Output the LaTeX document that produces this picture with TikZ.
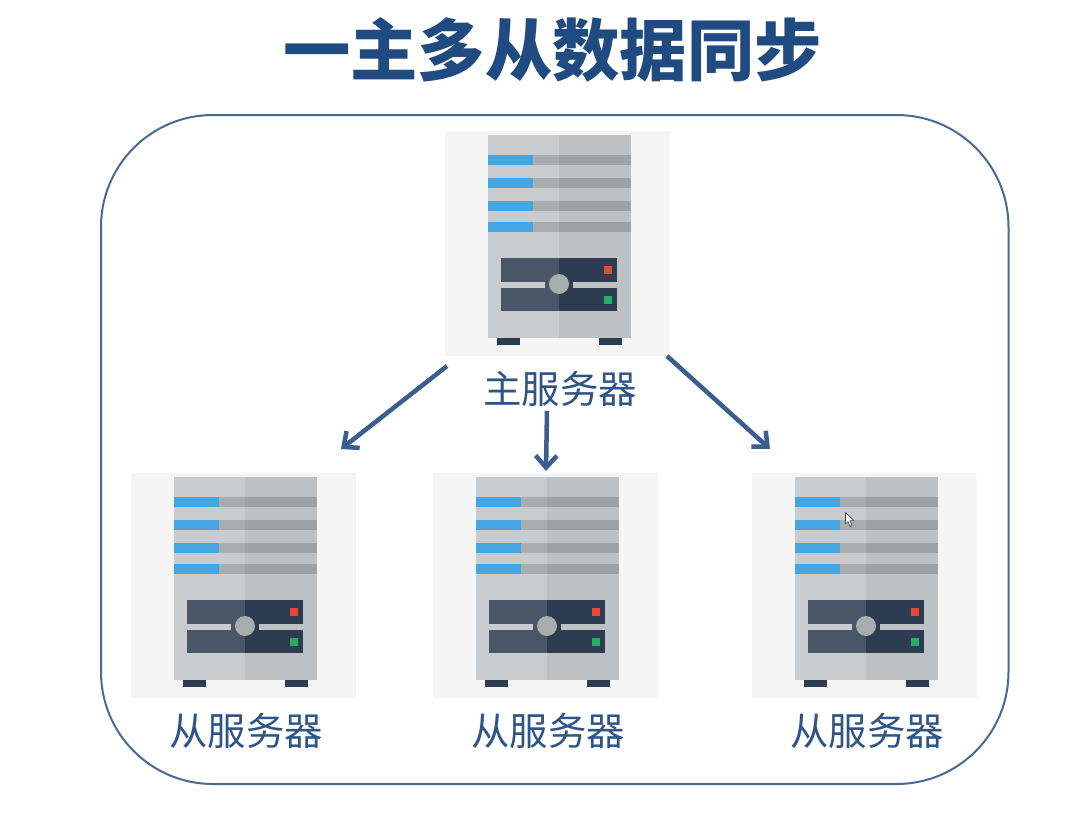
\documentclass[tikz,border=0pt]{standalone}
\usepackage{fontspec}
\newfontfamily\cjk{Noto Sans CJK SC}
\usetikzlibrary{arrows.meta}
\definecolor{ttl}{HTML}{1F4B80}
\definecolor{lbl}{HTML}{2F5486}
\definecolor{frm}{HTML}{4A6A96}
\definecolor{arr}{HTML}{3B5E8F}
\definecolor{pnl}{HTML}{F5F5F6}
\definecolor{twl}{HTML}{C9CCCF}
\definecolor{twr}{HTML}{BEC1C4}
\definecolor{blu}{HTML}{45A6E2}
\definecolor{grl}{HTML}{A8ADAF}
\definecolor{grr}{HTML}{9BA3A4}
\definecolor{dkl}{HTML}{485668}
\definecolor{dkr}{HTML}{2D3C50}
\definecolor{cir}{HTML}{A6ADAD}
\definecolor{red1}{HTML}{E8483A}
\definecolor{grn1}{HTML}{25AE60}
\tikzset{
  lab/.style={inner sep=0pt,text=lbl,font=\cjk\fontsize{28.8pt}{32pt}\selectfont},
  link/.style={draw=arr,line width=3.4pt,-{Straight Barb[length=9pt,width=16pt,line width=3.4pt]}},
  panel/.style={inner sep=0pt,minimum width=168.75pt,minimum height=168.75pt,fill=pnl,anchor=north west}
}
\newcommand{\serverdraw}[3]{%
  \node[panel] (#3) at (#1,#2) {};
  \begin{scope}[shift={(#1,#2)}]
    \fill[twl] (43,4) rectangle (114,207);
    \fill[twr] (114,4) rectangle (186,207);
    \foreach \yy/\hh in {24/10,46.7/10,69.7/10,91/10}{
      \fill[blu] (43,\yy) rectangle (88,\yy+\hh);
      \fill[grl] (88,\yy) rectangle (114,\yy+\hh);
      \fill[grr] (114,\yy) rectangle (185.5,\yy+\hh);
    }
    \fill[dkl] (56,127) rectangle (114,151);
    \fill[dkr] (114,127) rectangle (172,151);
    \fill[dkl] (56,157) rectangle (114,180);
    \fill[dkr] (114,157) rectangle (172,180);
    \fill[twl] (56,151) rectangle (114,157);
    \fill[twr] (114,151) rectangle (172,157);
    \fill[dkl] (100,150) rectangle (114,158);
    \fill[dkr] (114,150) rectangle (128,158);
    \fill[cir] (114,153) circle [radius=10];
    \fill[red1] (158.5,135) rectangle (166.5,143);
    \fill[grn1] (158.5,164.5) rectangle (166.5,172.5);
    \fill[dkr] (52,207) rectangle (75,214);
    \fill[dkr] (153.5,207) rectangle (176.5,214);
  \end{scope}}
\begin{document}
\begin{tikzpicture}[x=0.75pt,y=-0.75pt]
\useasboundingbox (0,0) rectangle (1076,828);
\fill[white] (0,0) rectangle (1076,828);
\node[inner sep=0pt,text=ttl,font=\cjk\bfseries\fontsize{50.5pt}{56pt}\selectfont] (title) at (552.5,50) {一主多从数据同步};
\draw[frm,line width=1.5pt,rounded corners=84pt] (101,115) rectangle (1008.5,784);
\serverdraw{445}{131}{master}
\serverdraw{131}{473}{slaveA}
\serverdraw{433}{473}{slaveB}
\serverdraw{752}{473}{slaveC}
\node[lab] (lm) at (560,389) {主服务器};
\node[lab] (la) at (246,731) {从服务器};
\node[lab] (lb) at (548,731) {从服务器};
\node[lab] (lc) at (867,731) {从服务器};
\coordinate (s1) at (447,366); \coordinate (e1) at (341,449);
\coordinate (s2) at (547,411); \coordinate (e2) at (546,471);
\coordinate (s3) at (667,356); \coordinate (e3) at (770,449);
\draw[link] (s1) -- (e1);
\draw[link] (s2) -- (e2);
\draw[link] (s3) -- (e3);
\draw[fill=white,draw=black!70,line width=0.5pt,line join=round]
  (845.5,512.5) -- (845.5,524) -- (848,521.5) -- (850,526.5) -- (852,525.5) -- (850,520.8) -- (854,520.5) -- cycle;
\end{tikzpicture}
\end{document}
